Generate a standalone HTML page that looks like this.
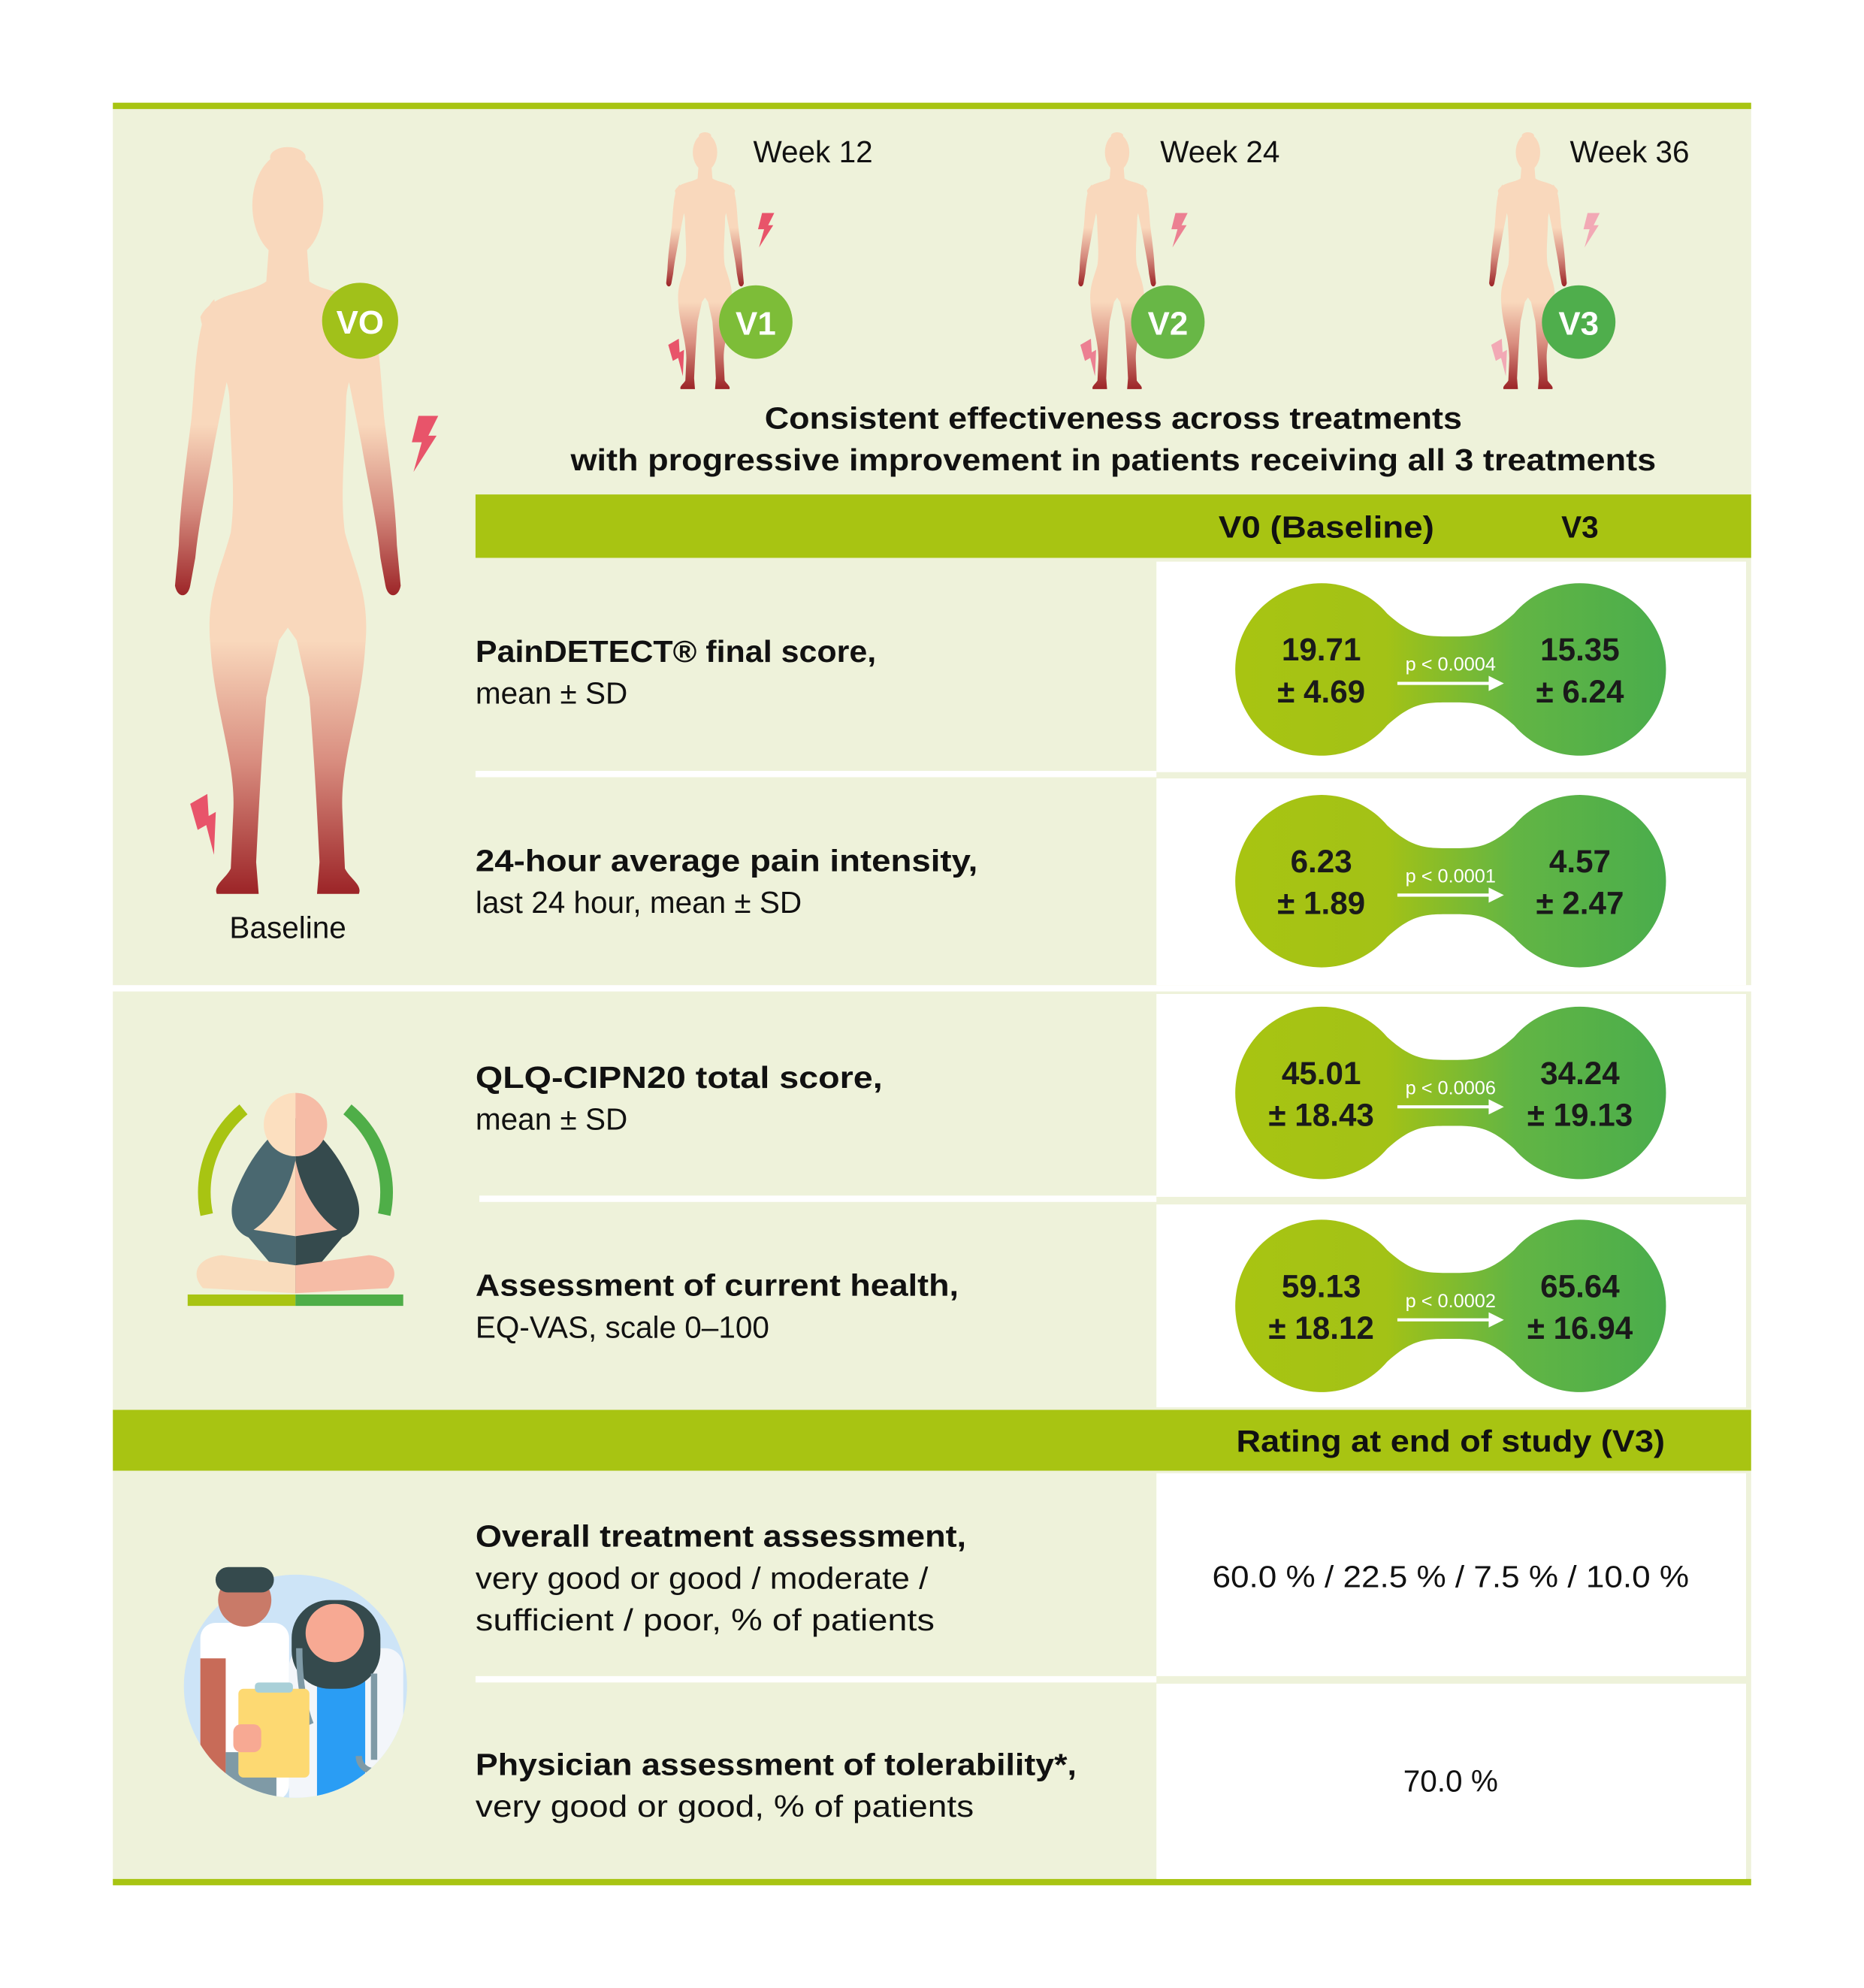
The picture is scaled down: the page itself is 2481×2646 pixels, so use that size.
<!DOCTYPE html>
<html><head><meta charset="utf-8"><style>
html,body{margin:0;padding:0;background:#fff;}
svg{display:block;}
text{font-family:"Liberation Sans",sans-serif;fill:#111;}
.b{font-weight:bold;}
.m{font-weight:bold;fill:#1a1a1a;}
</style></head><body>
<svg width="2481" height="2646" viewBox="0 0 1470 1568" preserveAspectRatio="none" xmlns="http://www.w3.org/2000/svg">
<defs>
<linearGradient id="bodyG" gradientUnits="userSpaceOnUse" x1="0" y1="118" x2="0" y2="705">
<stop offset="0" stop-color="#f9d8bc"/><stop offset="0.66" stop-color="#f9d8bc"/><stop offset="0.82" stop-color="#d98e80"/><stop offset="1" stop-color="#9c2427"/></linearGradient>
<linearGradient id="armG" gradientUnits="userSpaceOnUse" x1="0" y1="335" x2="0" y2="470">
<stop offset="0" stop-color="#f9d8bc"/><stop offset="0.5" stop-color="#d58b7e"/><stop offset="1" stop-color="#9c2427"/></linearGradient>
<linearGradient id="blobG" x1="0" y1="0" x2="1" y2="0">
<stop offset="0" stop-color="#a8c412"/><stop offset="0.35" stop-color="#a3c216"/><stop offset="0.65" stop-color="#62b544"/><stop offset="1" stop-color="#4aad4c"/></linearGradient>
<g id="woman">
<ellipse cx="227" cy="124" rx="14" ry="8" fill="url(#bodyG)"/>
<ellipse cx="227" cy="162" rx="28" ry="42" fill="url(#bodyG)"/>
<path fill="url(#armG)" d="M285 236 C300 250 300 300 303 330 C308 370 312 400 313 430 L316 462 C314 472 306 472 304 462 L300 440 C297 410 290 380 285 350 L275 300 Z"/>
<path fill="url(#armG)" d="M169 236 C154 250 154 300 151 330 C146 370 142 400 141 430 L138 462 C140 472 148 472 150 462 L154 440 C157 410 164 380 169 350 L179 300 Z"/>
<path fill="url(#bodyG)" d="M212 195 L242 195 L244 222 C258 232 286 230 296 250 C292 275 274 290 273 315 C272 360 268 390 272 420 C280 450 292 470 288 510 C285 560 268 600 270 640 L272 685 C276 693 286 698 283 705 L250 705 L252 680 C250 640 248 600 244 550 L234 505 L227 495 L220 505 L210 550 C206 600 204 640 202 680 L204 705 L171 705 C168 698 178 693 182 685 L184 640 C186 600 169 560 166 510 C162 470 174 450 182 420 C186 390 182 360 181 315 C180 290 162 275 158 250 C168 230 196 232 210 222 Z"/>
</g>
<path id="bolt" d="M0 0 L12 0 L6 12 L11 12 L-3 34 L2 16 L-4 16 Z"/>
</defs>

<rect x="0" y="0" width="1470" height="1568" fill="#fff"/>
<rect x="89" y="84" width="1292" height="693" fill="#eef2da"/>
<rect x="89" y="782" width="1292" height="330" fill="#eef2da"/>
<rect x="89" y="1160" width="1292" height="324" fill="#eef2da"/>
<rect x="89" y="81" width="1292" height="5" fill="#a8c412"/>
<rect x="89" y="1482" width="1292" height="5" fill="#a8c412"/>

<rect x="375" y="390" width="1006" height="50" fill="#a8c412"/>
<text x="1046" y="424" class="b" font-size="24" text-anchor="middle" textLength="170" lengthAdjust="spacingAndGlyphs">V0 (Baseline)</text>
<text x="1246" y="424" class="b" font-size="24" text-anchor="middle">V3</text>

<rect x="912" y="443" width="465" height="166" fill="#fff"/>
<rect x="912" y="614" width="465" height="163" fill="#fff"/>
<rect x="912" y="784" width="465" height="160" fill="#fff"/>
<rect x="912" y="950" width="465" height="160" fill="#fff"/>
<rect x="375" y="608" width="537" height="5" fill="#fff"/>
<rect x="378" y="943" width="534" height="5" fill="#fff"/>

<rect x="89" y="1112" width="1292" height="48" fill="#a8c412"/>
<text x="1144" y="1145" class="b" font-size="24" text-anchor="middle" textLength="338" lengthAdjust="spacingAndGlyphs">Rating at end of study (V3)</text>
<rect x="912" y="1162" width="465" height="160" fill="#fff"/>
<rect x="912" y="1328" width="465" height="154" fill="#fff"/>
<rect x="375" y="1322" width="537" height="5" fill="#fff"/>
<text x="1144" y="1252" font-size="24" text-anchor="middle" textLength="376" lengthAdjust="spacingAndGlyphs">60.0 % / 22.5 % / 7.5 % / 10.0 %</text>
<text x="1144" y="1413" font-size="24" text-anchor="middle">70.0 %</text>

<g font-size="24">
<text x="375" y="522" class="b" textLength="316" lengthAdjust="spacingAndGlyphs">PainDETECT® final score,</text>
<text x="375" y="555">mean ± SD</text>
<text x="375" y="687" class="b" textLength="396" lengthAdjust="spacingAndGlyphs">24-hour average pain intensity,</text>
<text x="375" y="720">last 24 hour, mean ± SD</text>
<text x="375" y="858" class="b" textLength="321" lengthAdjust="spacingAndGlyphs">QLQ-CIPN20 total score,</text>
<text x="375" y="891">mean ± SD</text>
<text x="375" y="1022" class="b" textLength="381" lengthAdjust="spacingAndGlyphs">Assessment of current health,</text>
<text x="375" y="1055">EQ-VAS, scale 0–100</text>
<text x="375" y="1220" class="b" textLength="387" lengthAdjust="spacingAndGlyphs">Overall treatment assessment,</text>
<text x="375" y="1253" textLength="357" lengthAdjust="spacingAndGlyphs">very good or good / moderate /</text>
<text x="375" y="1286" textLength="362" lengthAdjust="spacingAndGlyphs">sufficient / poor, % of patients</text>
<text x="375" y="1400" class="b" textLength="474" lengthAdjust="spacingAndGlyphs">Physician assessment of tolerability*,</text>
<text x="375" y="1433" textLength="393" lengthAdjust="spacingAndGlyphs">very good or good, % of patients</text>
</g>

<g>
<g transform="translate(1144,528)">
<path fill="url(#blobG)" d="M-50 -44 C-30 -26 -20 -26 0 -26 C20 -26 30 -26 50 -44 A68 68 0 1 1 50 44 C30 26 20 26 0 26 C-20 26 -30 26 -50 44 A68 68 0 1 1 -50 -44 Z"/>
<text x="-102" y="-7" font-size="25" class="m" text-anchor="middle">19.71</text><text x="-102" y="26" font-size="25" class="m" text-anchor="middle">± 4.69</text>
<text x="102" y="-7" font-size="25" class="m" text-anchor="middle">15.35</text><text x="102" y="26" font-size="25" class="m" text-anchor="middle">± 6.24</text>
<text x="0" y="1" font-size="15" text-anchor="middle" style="fill:#fff">p &lt; 0.0004</text>
<path d="M-42 11 L32 11" stroke="#fff" stroke-width="2.5"/><path d="M30 5 L42 11 L30 17 Z" fill="#fff"/>
</g>
<g transform="translate(1144,695)">
<path fill="url(#blobG)" d="M-50 -44 C-30 -26 -20 -26 0 -26 C20 -26 30 -26 50 -44 A68 68 0 1 1 50 44 C30 26 20 26 0 26 C-20 26 -30 26 -50 44 A68 68 0 1 1 -50 -44 Z"/>
<text x="-102" y="-7" font-size="25" class="m" text-anchor="middle">6.23</text><text x="-102" y="26" font-size="25" class="m" text-anchor="middle">± 1.89</text>
<text x="102" y="-7" font-size="25" class="m" text-anchor="middle">4.57</text><text x="102" y="26" font-size="25" class="m" text-anchor="middle">± 2.47</text>
<text x="0" y="1" font-size="15" text-anchor="middle" style="fill:#fff">p &lt; 0.0001</text>
<path d="M-42 11 L32 11" stroke="#fff" stroke-width="2.5"/><path d="M30 5 L42 11 L30 17 Z" fill="#fff"/>
</g>
<g transform="translate(1144,862)">
<path fill="url(#blobG)" d="M-50 -44 C-30 -26 -20 -26 0 -26 C20 -26 30 -26 50 -44 A68 68 0 1 1 50 44 C30 26 20 26 0 26 C-20 26 -30 26 -50 44 A68 68 0 1 1 -50 -44 Z"/>
<text x="-102" y="-7" font-size="25" class="m" text-anchor="middle">45.01</text><text x="-102" y="26" font-size="25" class="m" text-anchor="middle">± 18.43</text>
<text x="102" y="-7" font-size="25" class="m" text-anchor="middle">34.24</text><text x="102" y="26" font-size="25" class="m" text-anchor="middle">± 19.13</text>
<text x="0" y="1" font-size="15" text-anchor="middle" style="fill:#fff">p &lt; 0.0006</text>
<path d="M-42 11 L32 11" stroke="#fff" stroke-width="2.5"/><path d="M30 5 L42 11 L30 17 Z" fill="#fff"/>
</g>
<g transform="translate(1144,1030)">
<path fill="url(#blobG)" d="M-50 -44 C-30 -26 -20 -26 0 -26 C20 -26 30 -26 50 -44 A68 68 0 1 1 50 44 C30 26 20 26 0 26 C-20 26 -30 26 -50 44 A68 68 0 1 1 -50 -44 Z"/>
<text x="-102" y="-7" font-size="25" class="m" text-anchor="middle">59.13</text><text x="-102" y="26" font-size="25" class="m" text-anchor="middle">± 18.12</text>
<text x="102" y="-7" font-size="25" class="m" text-anchor="middle">65.64</text><text x="102" y="26" font-size="25" class="m" text-anchor="middle">± 16.94</text>
<text x="0" y="1" font-size="15" text-anchor="middle" style="fill:#fff">p &lt; 0.0002</text>
<path d="M-42 11 L32 11" stroke="#fff" stroke-width="2.5"/><path d="M30 5 L42 11 L30 17 Z" fill="#fff"/>
</g>
</g>

<text x="878" y="338" class="b" font-size="24" text-anchor="middle" textLength="550" lengthAdjust="spacingAndGlyphs">Consistent effectiveness across treatments</text>
<text x="878" y="371" class="b" font-size="24" text-anchor="middle" textLength="856" lengthAdjust="spacingAndGlyphs">with progressive improvement in patients receiving all 3 treatments</text>

<use href="#woman"/>
<circle cx="284" cy="253" r="30" fill="#a1c11a"/>
<text x="284" y="263" class="b" font-size="26" text-anchor="middle" style="fill:#fff">VO</text>
<use href="#bolt" fill="#e8546a" transform="translate(330,328) scale(1.3)"/>
<use href="#bolt" fill="#e8546a" transform="translate(150,634) scale(1.3) rotate(-30)"/>
<text x="227" y="740" font-size="24" text-anchor="middle">Baseline</text>

<use href="#woman" transform="translate(477.9,64.4) scale(0.344)"/>
<use href="#woman" transform="translate(802.9,64.4) scale(0.344)"/>
<use href="#woman" transform="translate(1126.9,64.4) scale(0.344)"/>
<use href="#bolt" fill="#e8546a" transform="translate(601,168) scale(0.8)"/>
<use href="#bolt" fill="#ec8092" transform="translate(927,168) scale(0.8)"/>
<use href="#bolt" fill="#f2a9b5" transform="translate(1252,168) scale(0.8)"/>
<use href="#bolt" fill="#e8546a" transform="translate(527,272) scale(0.8) rotate(-30)"/>
<use href="#bolt" fill="#ec8092" transform="translate(852,272) scale(0.8) rotate(-30)"/>
<use href="#bolt" fill="#f2a9b5" transform="translate(1176,272) scale(0.8) rotate(-30)"/>
<circle cx="596" cy="254" r="29" fill="#7dbd38"/>
<text x="596" y="264" class="b" font-size="26" text-anchor="middle" style="fill:#fff">V1</text>
<circle cx="921" cy="254" r="29" fill="#68b746"/>
<text x="921" y="264" class="b" font-size="26" text-anchor="middle" style="fill:#fff">V2</text>
<circle cx="1245" cy="254" r="29" fill="#4fae4c"/>
<text x="1245" y="264" class="b" font-size="26" text-anchor="middle" style="fill:#fff">V3</text>
<text x="594" y="128" font-size="24">Week 12</text>
<text x="915" y="128" font-size="24">Week 24</text>
<text x="1238" y="128" font-size="24">Week 36</text>

<g>
<path d="M192 875 A85 85 0 0 0 163 958" stroke="#a8c412" stroke-width="10" fill="none"/>
<path d="M274 875 A85 85 0 0 1 303 958" stroke="#4fae48" stroke-width="10" fill="none"/>
<path d="M233 882 C250 890 268 910 280 940 C288 960 280 972 270 976 L233 1020 Z" fill="#354a4d"/>
<path d="M233 882 C216 890 198 910 186 940 C178 960 186 972 196 976 L233 1020 Z" fill="#4a6870"/>
<path d="M233 915 L233 975 L200 970 C215 960 228 940 233 915 Z" fill="#f9dcbd"/>
<path d="M233 915 L233 975 L266 970 C251 960 238 940 233 915 Z" fill="#f6bca6"/>
<path d="M233 1020 L160 1016 C150 1005 155 992 175 990 L233 998 Z" fill="#f9dcbd"/>
<path d="M233 1020 L306 1016 C316 1005 311 992 291 990 L233 998 Z" fill="#f6bca6"/>
<path d="M233 862 A25 25 0 0 0 233 912 Z" fill="#fcdfbf"/>
<path d="M233 862 A25 25 0 0 1 233 912 Z" fill="#f6bca6"/>
<rect x="148" y="1021" width="85" height="9" fill="#a8c412"/>
<rect x="233" y="1021" width="85" height="9" fill="#4fae48"/>
</g>

<g>
<ellipse cx="233" cy="1330" rx="88" ry="88" fill="#cde4f7"/>
<clipPath id="dc"><circle cx="233" cy="1330" r="88"/><rect x="145" y="1230" width="176" height="100"/></clipPath>
<g clip-path="url(#dc)">
<rect x="158" y="1280" width="70" height="140" rx="12" fill="#fff"/>
<rect x="158" y="1308" width="20" height="110" fill="#c86b58"/>
<rect x="178" y="1382" width="40" height="40" fill="#7f9aa6"/>
<circle cx="193" cy="1262" r="21" fill="#c97a68"/>
<rect x="170" y="1236" width="46" height="20" rx="10" fill="#354a4d"/>
<rect x="228" y="1300" width="90" height="130" rx="14" fill="#f3f6fa"/>
<rect x="250" y="1300" width="38" height="130" fill="#2a9df4"/>
<rect x="230" y="1262" width="70" height="70" rx="30" fill="#354a4d"/>
<circle cx="264" cy="1288" r="23" fill="#f7a993"/>
<path d="M236 1300 C236 1340 245 1360 245 1360 M295 1320 L295 1388" stroke="#7f9aa6" stroke-width="5" fill="none"/>
<path d="M283 1385 A12 12 0 0 0 307 1385" stroke="#7f9aa6" stroke-width="5" fill="none"/>
<rect x="188" y="1332" width="56" height="70" rx="4" fill="#fdd972"/>
<rect x="201" y="1327" width="30" height="8" rx="3" fill="#a9d0d8"/>
<rect x="184" y="1360" width="22" height="22" rx="6" fill="#f7a993"/>
</g>
</g>
</svg>
</body></html>
